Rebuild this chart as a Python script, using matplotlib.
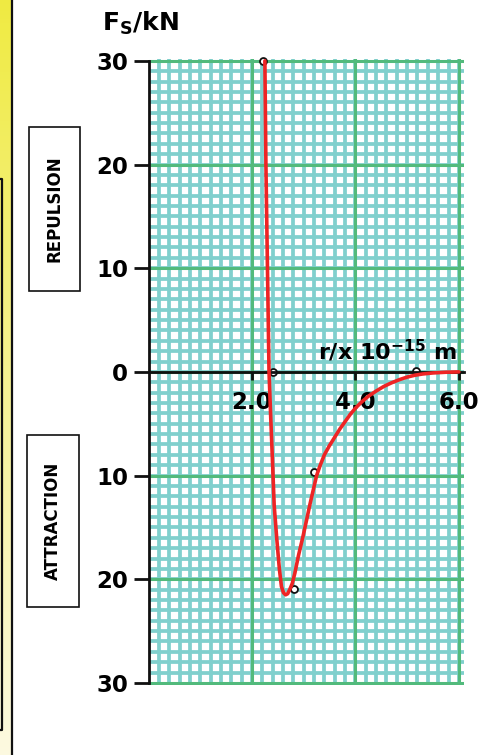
import numpy as np
import matplotlib
matplotlib.use("Agg")
import matplotlib.pyplot as plt
from matplotlib.patches import Rectangle
from matplotlib.lines import Line2D

plt.rcParams['font.family'] = ['DejaVu Sans']
plt.rcParams['font.weight'] = 'bold'
plt.rcParams['mathtext.fontset'] = 'dejavusans'

# force curve (r in 1e-15 m, F in kN)
r_curve = [2.25, 2.27, 2.30, 2.33, 2.36, 2.38, 2.40, 2.43, 2.48, 2.53, 2.57,
           2.61, 2.65, 2.69, 2.73, 2.78, 2.83, 2.90, 2.99, 3.06, 3.12, 3.18,
           3.25, 3.32, 3.40, 3.50, 3.60, 3.70, 3.80, 3.90, 4.00, 4.12, 4.25,
           4.40, 4.55, 4.70, 4.85, 5.00, 5.15, 5.30, 5.50, 5.75, 6.00]
f_curve = [30.0, 20.0, 10.0, 0.0, -4.0, -6.5, -9.0, -12.9, -16.1, -19.0, -20.7,
           -21.3, -21.5, -21.4, -21.0, -20.4, -19.4, -17.7, -15.8, -14.2, -12.8, -11.5,
           -10.0, -9.0, -8.0, -7.1, -6.3, -5.5, -4.8, -4.1, -3.5, -2.9, -2.35,
           -1.85, -1.4, -1.05, -0.75, -0.5, -0.32, -0.2, -0.1, -0.03, 0.0]

# plotted data points (open circles)
r_points = [2.21, 2.40, 2.81, 3.20, 5.17]
f_points = [30.0, 0.0, -20.9, -9.7, 0.1]

y_ticks = [30, 20, 10, 0, -10, -20, -30]
y_tick_labels = ['30', '20', '10', '0', '10', '20', '30']
x_ticks = [2.0, 4.0, 6.0]
x_tick_labels = ['2.0', '4.0', '6.0']

W, H = 494, 755
fig = plt.figure(figsize=(W / 100, H / 100), dpi=100)
fig.patch.set_facecolor('white')

def fx(px):
    return px / W

def fy(py):
    return 1 - py / H

# yellow strip on the left
gax = fig.add_axes([0, 0, fx(12), 1])
top = np.array([0.94, 0.92, 0.26])
bot = np.array([0.99, 0.98, 0.88])
t = np.linspace(0, 1, 200)[:, None]
grad = (top * (1 - t) + bot * t)[:, None, :]
gax.imshow(grad, aspect='auto', extent=[0, 1, 0, 1])
gax.axis('off')
fig.add_artist(Line2D([fx(12), fx(12)], [0, 1], color='#111111', lw=1.6))
fig.add_artist(Line2D([fx(0), fx(2), fx(2), fx(0)],
                      [fy(179), fy(179), fy(730), fy(730)], color='#111111', lw=1.6))

rect = [fx(148.5), fy(684.5), fx(463.5 - 148.5), (684.5 - 59.3) / H]
xlim = (0, 6.09)
ylim = (-30.15, 30.15)

# graph paper: fine teal grid, then green major grid on a layer above it
teal = '#80d0cd'
green = '#52ba7c'
fine = fig.add_axes(rect, zorder=0)
fine.set_xticks(np.arange(0.2, 6.01, 0.2))
fine.set_yticks(np.arange(-29, 30, 1))
fine.grid(color=teal, lw=2.7)

coarse = fig.add_axes(rect, zorder=0.5)
coarse.patch.set_alpha(0)
coarse.set_xticks([2, 4, 6])
coarse.set_yticks(np.arange(-30, 31, 10))
coarse.grid(color=green, lw=2.2)

for g in (fine, coarse):
    g.set_xlim(*xlim)
    g.set_ylim(*ylim)
    g.tick_params(length=0, labelbottom=False, labelleft=False)
    for s in g.spines.values():
        s.set_visible(False)

# main axes on top
ax = fig.add_axes(rect, zorder=1)
ax.patch.set_alpha(0)
ax.set_xlim(*xlim)
ax.set_ylim(*ylim)
ax.set_xticks(x_ticks)
ax.set_xticklabels(x_tick_labels)
ax.set_yticks(y_ticks)
ax.set_yticklabels(y_tick_labels)

for s in ['top', 'right']:
    ax.spines[s].set_visible(False)
ax.spines['bottom'].set_position(('data', 0))
ax.spines['left'].set_bounds(-30, 30)
for s in ['bottom', 'left']:
    ax.spines[s].set_linewidth(2.0)
    ax.spines[s].set_color('#111111')

ax.tick_params(axis='y', direction='out', length=11, width=2.0,
               pad=3.5, labelsize=16.5, color='#111111')
ax.tick_params(axis='x', direction='out', length=6, width=2.0,
               pad=8, labelsize=16.5, color='#111111')

ax.plot(r_points, f_points, 'o', ms=5, mfc='white', mec='#111111', mew=1.3,
        zorder=1.5, clip_on=False)
ax.plot(r_curve, f_curve, color='#ee2424', lw=2.6, zorder=3,
        solid_joinstyle='round', solid_capstyle='round')

ax.text(3.28, 1.15, r'r/x 10$^{\mathbf{-15}}$ m', fontsize=16, fontweight='bold',
        ha='left', va='baseline', zorder=5)
fig.text(fx(102), fy(31), r'F$_{\mathbf{S}}$/kN', fontsize=18, fontweight='bold',
         ha='left', va='baseline')

# side boxes
for (x0, y0, x1, y1, label) in [(29, 127, 80, 291, 'REPULSION'),
                                 (27, 435, 79, 607, 'ATTRACTION')]:
    fig.add_artist(Rectangle((fx(x0), fy(y1)), fx(x1 - x0), (y1 - y0) / H,
                             fill=True, facecolor='white', edgecolor='#111111', lw=1.2))
    fig.text(fx((x0 + x1) / 2), fy((y0 + y1) / 2), label, rotation=90,
             fontsize=12, fontweight='bold', ha='center', va='center')

plt.savefig('out.png', dpi=100)
